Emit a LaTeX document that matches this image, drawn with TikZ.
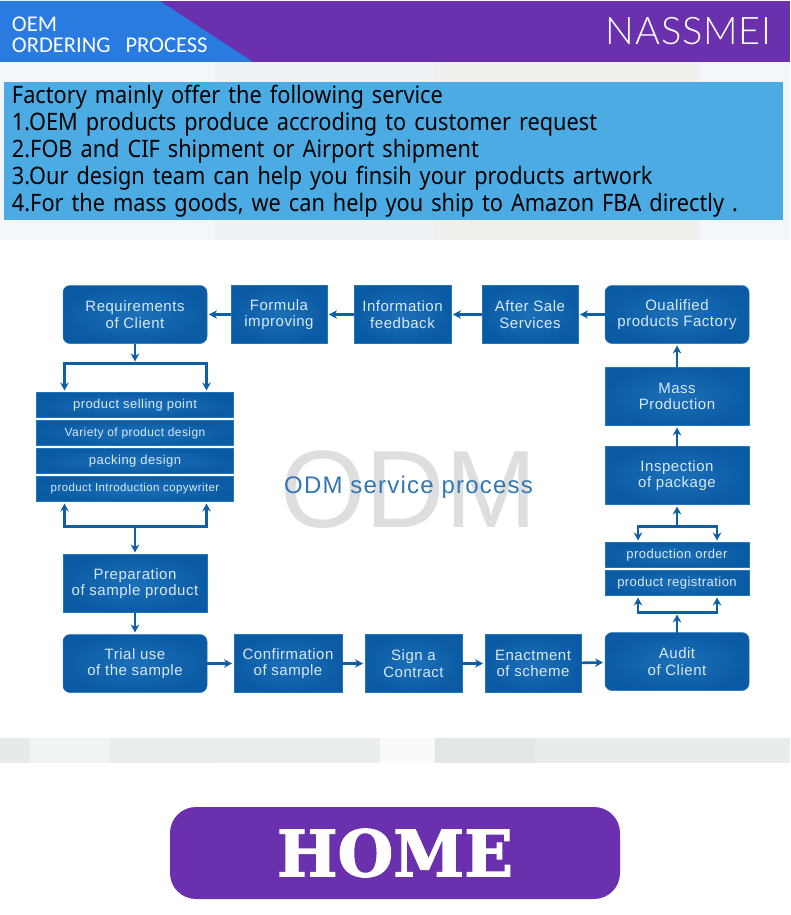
\documentclass[tikz,border=0pt]{standalone}
\usepackage{xcolor}
\usepackage{fontspec}
\setmainfont{Liberation Sans}
\newfontfamily\flowfont[LetterSpace=3.5]{Liberation Sans}
\newfontfamily\titlefont[LetterSpace=5]{Liberation Sans}
\newfontfamily\svcfont[FakeStretch=0.905,WordSpace=0.65]{Noto Sans}
\newfontfamily\headfont{Carlito}
\newfontfamily\logofont[LetterSpace=2]{Lato Light}
\newfontfamily\homefont[BoldFeatures={FakeBold=2}]{DejaVu Serif}
\usetikzlibrary{arrows.meta, positioning, calc}
\definecolor{purplebar}{HTML}{6A30AE}
\definecolor{bluecorner}{HTML}{2A7BE0}
\definecolor{skypanel}{HTML}{4BABE2}
\definecolor{boxinner}{HTML}{1C70B8}
\definecolor{boxouter}{HTML}{0A5BA4}
\definecolor{boxedge}{HTML}{2078BC}
\definecolor{boxtext}{HTML}{D8E8F6}
\definecolor{arrowblue}{HTML}{0F5FA6}
\definecolor{palesky}{HTML}{F2F7FC}
\definecolor{palegrey}{HTML}{EFF2F4}
\definecolor{palewarm}{HTML}{F1EFEC}
\definecolor{stripgrey}{HTML}{E1E7E7}
\tikzstyle{arr}      = [-{Stealth[length=8pt,width=8.5pt]}, line width=2.6pt, draw=arrowblue]

\begin{document}
\begin{tikzpicture}[
  x=1pt, y=-1pt,
  bigbox/.style={rectangle, inner sep=0pt, outer sep=0pt, minimum width=144pt, minimum height=58pt,
                 draw=boxedge, line width=0.5pt, inner color=boxinner, outer color=boxouter,
                 text=boxtext, align=center, font=\flowfont\fontsize{15}{16.5}\selectfont},
  roundbox/.style={bigbox, rounded corners=7pt},
  slim/.style={bigbox, minimum width=197pt, minimum height=25pt},
  slimr/.style={slim, minimum width=144pt}
]
  \useasboundingbox (0,0) rectangle (790,915);
  \fill[white] (0,0) rectangle (790,915);

  \fill[purplebar] (0,1) rectangle (790,62);
  \fill[bluecorner] (0,1) -- (160,1) -- (253,62) -- (0,62) -- cycle;
  \fill[palesky] (0,62) rectangle (790,240);
  \fill[palegrey] (215,62) rectangle (435,240);
  \fill[palewarm] (435,62) rectangle (700,240);
  \foreach \xa/\xb/\shade in {0/30/85, 30/110/45, 110/215/75, 215/380/70, 380/435/20, 435/535/100, 535/645/80, 645/790/80}
    \fill[stripgrey!\shade] (\xa,738) rectangle (\xb,763);

  \node[text=white, align=left, inner sep=0pt, font=\headfont\fontsize{22.5}{20.5}\selectfont] (oem)
    at (112,35) [anchor=center, text width=200pt] {OEM\\ORDERING~~PROCESS};
  \node[text=white, inner sep=0pt, font=\logofont\fontsize{38}{38}\selectfont] (logo) at (688.5,31) {NASSMEI};

  \node[fill=skypanel, text=black, align=left, inner xsep=8pt, inner ysep=0pt, minimum height=137pt,
        text width=763pt, font=\svcfont\fontsize{24}{27}\selectfont] (svc) at (393.5,151)
    {Factory mainly offer the following service\\
     1.OEM products produce accroding to customer request\\
     2.FOB and CIF shipment or Airport shipment\\
     3.Our design team can help you finsih your products artwork\\
     4.For the mass goods, we can help you ship to Amazon FBA directly .};

  \node[text=black!13, inner sep=0pt, font=\fontsize{110}{110}\selectfont] (wm) at (408.5,490) {ODM};
  \node[text=arrowblue!85, inner sep=0pt, font=\titlefont\fontsize{24}{24}\selectfont] (ttl) at (408.5,487.5) {ODM service process};

  \node[roundbox] (req) at (135,314.5) {Requirements\\of Client};
  \node[bigbox, right=24pt of req, minimum width=96pt]  (form)  {Formula\\improving};
  \node[bigbox, right=27pt of form, minimum width=97pt] (info)  {Information\\feedback};
  \node[bigbox, right=31pt of info, minimum width=96pt] (after) {After Sale\\Services};
  \node[roundbox, right=27pt of after]                  (qual)  {Oualified\\products Factory};
  \node[bigbox, below=24pt of qual]                     (mass)  {Mass\\Production};
  \node[bigbox, below=21pt of mass]                     (insp)  {Inspection\\of package};
  \node[slimr, below=38pt of insp, font=\flowfont\fontsize{13}{14}\selectfont] (order) {production order};
  \node[slimr, below=3pt of order, font=\flowfont\fontsize{13}{14}\selectfont] (regi)  {product registration};
  \node[roundbox, below=37pt of regi]                   (audit) {Audit\\of Client};

  \node[slim, below=49pt of req, font=\flowfont\fontsize{13}{14}\selectfont]  (sell) {product selling point};
  \node[slim, below=3pt of sell, font=\flowfont\fontsize{12}{14}\selectfont]  (vari) {Variety of product design};
  \node[slim, below=3pt of vari, font=\flowfont\fontsize{13}{14}\selectfont]  (pack) {packing design};
  \node[slim, below=3pt of pack, font=\flowfont\fontsize{11.5}{14}\selectfont] (copy) {product Introduction copywriter};
  \node[bigbox, below=53pt of copy]                     (prep)  {Preparation\\of sample product};
  \node[roundbox, below=22pt of prep]                   (trial) {Trial use\\of the sample};
  \node[bigbox, right=27pt of trial, minimum width=108pt] (conf) {Confirmation\\of sample};
  \node[bigbox, right=23pt of conf, minimum width=97pt]  (sign) {Sign a\\Contract};
  \node[bigbox, right=23pt of sign, minimum width=96pt]  (enact) {Enactment\\of scheme};

  \coordinate[below=20pt of req] (splita);
  \coordinate (sellL) at ([xshift=28pt]sell.north west);
  \coordinate (sellR) at ([xshift=-27pt]sell.north east);
  \coordinate[below=25pt of copy] (splitb);
  \coordinate (copyL) at ([xshift=28pt]copy.south west);
  \coordinate (copyR) at ([xshift=-27pt]copy.south east);
  \coordinate[below=22pt of insp] (splitc);
  \coordinate (orderL) at ([xshift=33pt]order.north west);
  \coordinate (orderR) at ([xshift=-32pt]order.north east);
  \coordinate[above=20pt of audit] (splitd);
  \coordinate (regiL) at ([xshift=33pt]regi.south west);
  \coordinate (regiR) at ([xshift=-32pt]regi.south east);

  \begin{scope}[shorten >=2pt]
  \draw[arr] (form) -- (req);  \draw[arr] (info) -- (form); \draw[arr] (after) -- (info); \draw[arr] (qual) -- (after);
  \draw[arr] (mass) -- (qual); \draw[arr] (insp) -- (mass);
  \draw[arr] (splitc) -- (insp); \draw[arr] (splitc) -| (orderL); \draw[arr] (splitc) -| (orderR);
  \draw[arr] (splitd) -| (regiL); \draw[arr] (splitd) -| (regiR); \draw[arr] (audit) -- (splitd);
  \draw[arr] (enact) -- (audit); \draw[arr] (sign) -- (enact); \draw[arr] (conf) -- (sign); \draw[arr] (trial) -- (conf);
  \draw[arr] (prep) -- (trial); \draw[arr] (splitb) -- (prep);
  \draw[arr] (splitb) -| (copyL); \draw[arr] (splitb) -| (copyR);
  \draw[arr] (splita) -| (sellL); \draw[arr] (splita) -| (sellR); \draw[arr] (req) -- (splita);
  \end{scope}

  \node[fill=purplebar, rounded corners=26pt, minimum width=450pt, minimum height=92pt, inner sep=0pt,
        text=white, font=\homefont\bfseries\fontsize{64}{64}\selectfont] (home) at (395,853) {HOME};
\end{tikzpicture}
\end{document}
